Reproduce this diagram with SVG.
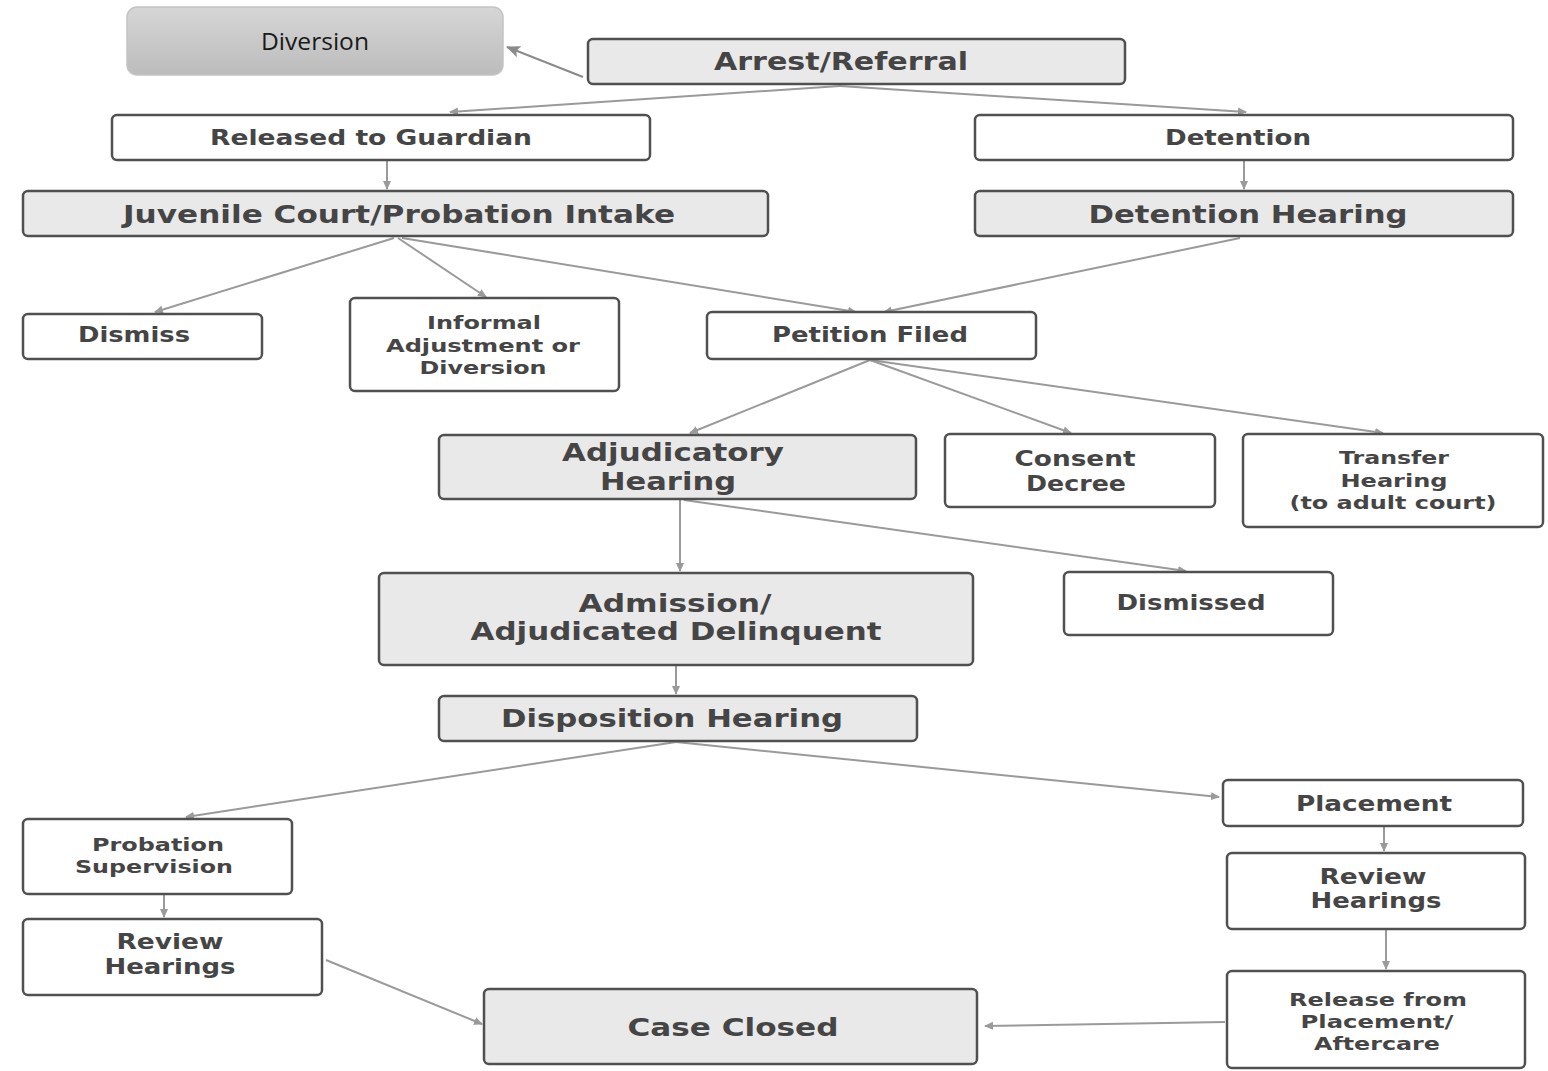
<svg xmlns="http://www.w3.org/2000/svg" width="1548" height="1071" viewBox="0 0 1548 1071">
<style>
.b{fill:#fff;stroke:#505050;stroke-width:2.5}
.g{fill:#e9e9e9;stroke:#505050;stroke-width:2.5}
text{font-family:"DejaVu Sans","Open Sans","Liberation Sans",sans-serif;font-weight:bold;fill:#454545;text-anchor:middle;dominant-baseline:central}
.s{font-size:18.5px}.m{font-size:20.5px}.l{font-size:25.5px}
.c line{stroke:#9a9a9a;stroke-width:2;fill:none}
</style>
<defs>
<linearGradient id="dg" x1="0" y1="0" x2="0" y2="1"><stop offset="0" stop-color="#d6d6d6"/><stop offset="1" stop-color="#bcbcbc"/></linearGradient>
<marker id="a" markerWidth="10" markerHeight="10" refX="8" refY="5" orient="auto" markerUnits="userSpaceOnUse"><path d="M0,1 L9,5 L0,9 z" fill="#9a9a9a"/></marker>
<marker id="ad" markerWidth="16" markerHeight="16" refX="13" refY="8" orient="auto" markerUnits="userSpaceOnUse"><path d="M0,2 L14,8 L0,14 L3,8 z" fill="#8a8a8a"/></marker>
</defs>
<g class="c" id="connectors">
<line x1="583" y1="77" x2="507" y2="47" marker-end="url(#ad)" style="stroke:#8a8a8a"/>
<line x1="840" y1="86" x2="450" y2="112" marker-end="url(#a)"/>
<line x1="840" y1="86" x2="1246" y2="112" marker-end="url(#a)"/>
<line x1="387" y1="161" x2="387" y2="189" marker-end="url(#a)"/>
<line x1="1244" y1="161" x2="1244" y2="189" marker-end="url(#a)"/>
<line x1="394" y1="238" x2="155" y2="312" marker-end="url(#a)"/>
<line x1="398" y1="238" x2="486" y2="297" marker-end="url(#a)"/>
<line x1="402" y1="238" x2="856" y2="312" marker-end="url(#a)"/>
<line x1="1240" y1="238" x2="884" y2="312" marker-end="url(#a)"/>
<line x1="870" y1="360" x2="690" y2="433" marker-end="url(#a)"/>
<line x1="870" y1="360" x2="1071" y2="433" marker-end="url(#a)"/>
<line x1="870" y1="360" x2="1383" y2="433" marker-end="url(#a)"/>
<line x1="680" y1="500" x2="680" y2="571" marker-end="url(#a)"/>
<line x1="684" y1="500" x2="1186" y2="571" marker-end="url(#a)"/>
<line x1="676" y1="666" x2="676" y2="694" marker-end="url(#a)"/>
<line x1="676" y1="742" x2="186" y2="817" marker-end="url(#a)"/>
<line x1="676" y1="742" x2="1219" y2="797" marker-end="url(#a)"/>
<line x1="1384" y1="827" x2="1384" y2="851" marker-end="url(#a)"/>
<line x1="1386" y1="930" x2="1386" y2="969" marker-end="url(#a)"/>
<line x1="164" y1="895" x2="164" y2="917" marker-end="url(#a)"/>
<line x1="326" y1="960" x2="482" y2="1024" marker-end="url(#a)"/>
<line x1="1225" y1="1022" x2="985" y2="1026" marker-end="url(#a)"/>
</g>
<g id="diversion"><rect x="127" y="7" width="376" height="68" rx="10" fill="url(#dg)" stroke="#c4c4c4" stroke-width="1.5"/><text x="315" y="40" style="font-family:'Open Sans',sans-serif;font-weight:400;font-size:24px;fill:#1a1a1a" textLength="108" lengthAdjust="spacingAndGlyphs">Diversion</text></g>
<g id="arrest"><rect class="g" x="588" y="39" width="537" height="45" rx="5"/><text class="l" x="841" y="61" textLength="254" lengthAdjust="spacingAndGlyphs">Arrest/Referral</text></g>
<g id="released"><rect class="b" x="112" y="115" width="538" height="45" rx="5"/><text class="m" x="371" y="138" textLength="322" lengthAdjust="spacingAndGlyphs">Released to Guardian</text></g>
<g id="detention"><rect class="b" x="975" y="115" width="538" height="45" rx="5"/><text class="m" x="1238" y="138" textLength="146" lengthAdjust="spacingAndGlyphs">Detention</text></g>
<g id="intake"><rect class="g" x="23" y="191" width="745" height="45" rx="5"/><text class="l" x="399" y="214" textLength="552" lengthAdjust="spacingAndGlyphs">Juvenile Court/Probation Intake</text></g>
<g id="detention-hearing"><rect class="g" x="975" y="191" width="538" height="45" rx="5"/><text class="l" x="1248" y="214" textLength="319" lengthAdjust="spacingAndGlyphs">Detention Hearing</text></g>
<g id="dismiss"><rect class="b" x="23" y="314" width="239" height="45" rx="5"/><text class="m" x="134" y="335" textLength="112" lengthAdjust="spacingAndGlyphs">Dismiss</text></g>
<g id="informal"><rect class="b" x="350" y="298" width="269" height="93" rx="5"/><text class="s"><tspan x="484" y="322" textLength="114" lengthAdjust="spacingAndGlyphs">Informal</tspan><tspan x="483" y="345" textLength="194" lengthAdjust="spacingAndGlyphs">Adjustment or</tspan><tspan x="483" y="367" textLength="127" lengthAdjust="spacingAndGlyphs">Diversion</tspan></text></g>
<g id="petition"><rect class="b" x="707" y="312" width="329" height="47" rx="5"/><text class="m" x="870" y="335" textLength="196" lengthAdjust="spacingAndGlyphs">Petition Filed</text></g>
<g id="adjudicatory"><rect class="g" x="439" y="435" width="477" height="64" rx="5"/><text class="l"><tspan x="673" y="452" textLength="222" lengthAdjust="spacingAndGlyphs">Adjudicatory</tspan><tspan x="668" y="481" textLength="136" lengthAdjust="spacingAndGlyphs">Hearing</tspan></text></g>
<g id="consent"><rect class="b" x="945" y="434" width="270" height="73" rx="5"/><text class="m"><tspan x="1075" y="459" textLength="121" lengthAdjust="spacingAndGlyphs">Consent</tspan><tspan x="1076" y="484" textLength="100" lengthAdjust="spacingAndGlyphs">Decree</tspan></text></g>
<g id="transfer"><rect class="b" x="1243" y="434" width="300" height="93" rx="5"/><text class="s"><tspan x="1394" y="457" textLength="110" lengthAdjust="spacingAndGlyphs">Transfer</tspan><tspan x="1394" y="480" textLength="107" lengthAdjust="spacingAndGlyphs">Hearing</tspan><tspan x="1393" y="502" textLength="207" lengthAdjust="spacingAndGlyphs">(to adult court)</tspan></text></g>
<g id="admission"><rect class="g" x="379" y="573" width="594" height="92" rx="5"/><text class="l"><tspan x="675" y="603" textLength="193" lengthAdjust="spacingAndGlyphs">Admission/</tspan><tspan x="676" y="631" textLength="411" lengthAdjust="spacingAndGlyphs">Adjudicated Delinquent</tspan></text></g>
<g id="dismissed"><rect class="b" x="1064" y="572" width="269" height="63" rx="5"/><text class="m" x="1191" y="603" textLength="149" lengthAdjust="spacingAndGlyphs">Dismissed</text></g>
<g id="disposition"><rect class="g" x="439" y="696" width="478" height="45" rx="5"/><text class="l" x="672" y="718" textLength="342" lengthAdjust="spacingAndGlyphs">Disposition Hearing</text></g>
<g id="probation"><rect class="b" x="23" y="819" width="269" height="75" rx="5"/><text class="s"><tspan x="158" y="844" textLength="132" lengthAdjust="spacingAndGlyphs">Probation</tspan><tspan x="154" y="866" textLength="158" lengthAdjust="spacingAndGlyphs">Supervision</tspan></text></g>
<g id="review-left"><rect class="b" x="23" y="919" width="299" height="76" rx="5"/><text class="m"><tspan x="170" y="942" textLength="107" lengthAdjust="spacingAndGlyphs">Review</tspan><tspan x="170" y="967" textLength="131" lengthAdjust="spacingAndGlyphs">Hearings</tspan></text></g>
<g id="case-closed"><rect class="g" x="484" y="989" width="493" height="75" rx="5"/><text class="l" x="733" y="1027" textLength="211" lengthAdjust="spacingAndGlyphs">Case Closed</text></g>
<g id="placement"><rect class="b" x="1223" y="780" width="300" height="46" rx="5"/><text class="m" x="1374" y="804" textLength="156" lengthAdjust="spacingAndGlyphs">Placement</text></g>
<g id="review-right"><rect class="b" x="1227" y="853" width="298" height="76" rx="5"/><text class="m"><tspan x="1373" y="877" textLength="107" lengthAdjust="spacingAndGlyphs">Review</tspan><tspan x="1376" y="901" textLength="131" lengthAdjust="spacingAndGlyphs">Hearings</tspan></text></g>
<g id="release"><rect class="b" x="1227" y="971" width="298" height="97" rx="5"/><text class="s"><tspan x="1378" y="999" textLength="178" lengthAdjust="spacingAndGlyphs">Release from</tspan><tspan x="1377" y="1021" textLength="153" lengthAdjust="spacingAndGlyphs">Placement/</tspan><tspan x="1377" y="1043" textLength="126" lengthAdjust="spacingAndGlyphs">Aftercare</tspan></text></g>
</svg>
